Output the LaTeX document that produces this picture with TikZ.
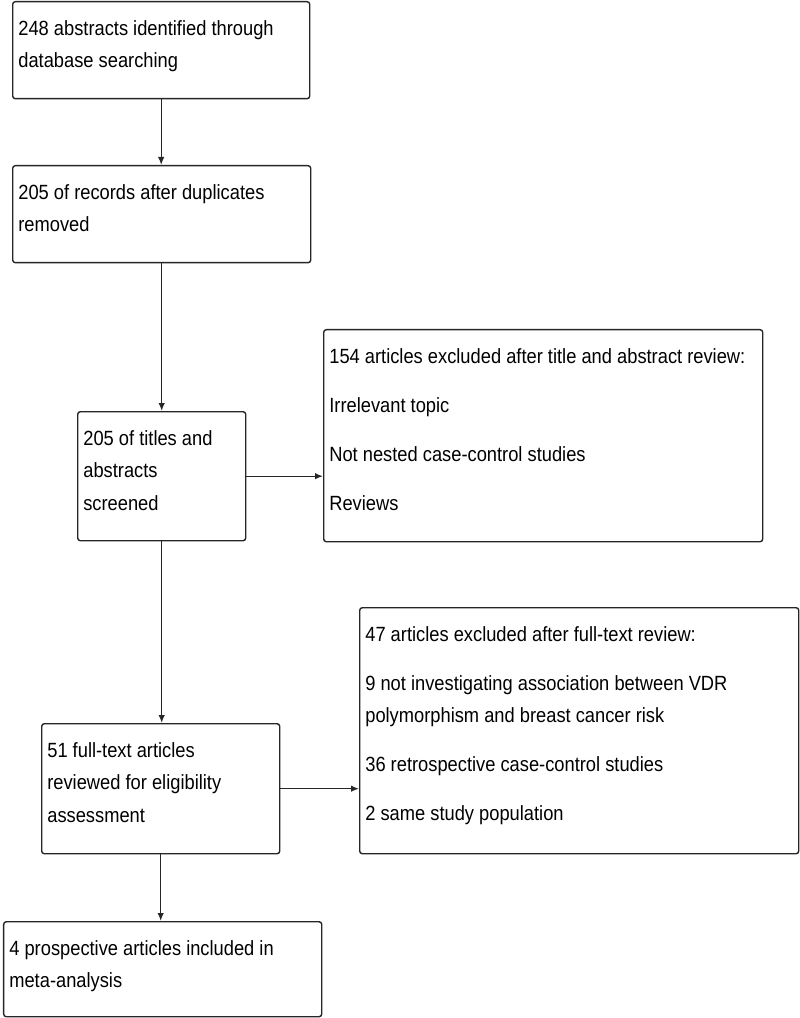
\documentclass[tikz,border=0pt]{standalone}
\usepackage{fontspec}
\setmainfont[FakeStretch=0.89]{Liberation Sans}
\usetikzlibrary{positioning,arrows.meta}
\tikzset{
  >={Latex[length=1.6mm,width=1.3mm]},
  every node/.style={font=\fontsize{11.7pt}{18.4pt}\selectfont},
  stage/.style={draw=black!85, line width=0.8pt, rounded corners=1.5pt,
    inner xsep=3.2pt, inner ysep=0pt, anchor=north west},
  flow/.style={->, draw=black!85, line width=0.8pt}
  }
% width, height, text (first baseline fixed below the top edge)
\newcommand{\boxtext}[3]{\parbox[t][#2][t]{\dimexpr#1-6.4pt\relax}{\rule{0pt}{19.3pt}#3}}

\begin{document}
\begin{tikzpicture}

    \useasboundingbox (0,0) rectangle (16,-20.36);

    \node [stage] at (0.24,-0.02) (ident)
      {\boxtext{5.94cm}{1.94cm}{248 abstracts identified through\\database searching}};
    \node [stage] at (0.24,-3.30) (dedup)
      {\boxtext{5.96cm}{1.94cm}{205 of records after duplicates\\removed}};
    \node [stage] at (1.54,-8.22) (screen)
      {\boxtext{3.36cm}{2.58cm}{205 of titles and\\abstracts\\screened}};
    \node [stage] at (6.46,-6.58) (excl1)
      {\boxtext{8.78cm}{4.24cm}{154 articles excluded after title and abstract review:\\[9.4pt]
        Irrelevant topic\\[9.4pt]Not nested case-control studies\\[9.4pt]Reviews}};
    \node [stage] at (0.82,-14.46) (full)
      {\boxtext{4.76cm}{2.60cm}{51 full-text articles\\reviewed for eligibility\\assessment}};
    \node [stage] at (7.18,-12.14) (excl2)
      {\boxtext{8.78cm}{4.92cm}{47 articles excluded after full-text review:\\[9.4pt]
        9 not investigating association between VDR\\polymorphism and breast cancer risk\\[9.4pt]
        36 retrospective case-control studies\\[9.4pt]2 same study population}};
    \node [stage] at (0.06,-18.42) (incl)
      {\boxtext{6.36cm}{1.90cm}{4 prospective articles included in\\meta-analysis}};

    \draw [flow] (ident.south) -- (ident.south |- dedup.north);
    \draw [flow] (dedup.south) -- (dedup.south |- screen.north);
    \draw [flow] (screen.east) -- (screen.east -| excl1.west);
    \draw [flow] (screen.south) -- (screen.south |- full.north);
    \draw [flow] (full.east) -- (full.east -| excl2.west);
    \draw [flow] (full.south) -- (full.south |- incl.north);

\end{tikzpicture}
\end{document}
